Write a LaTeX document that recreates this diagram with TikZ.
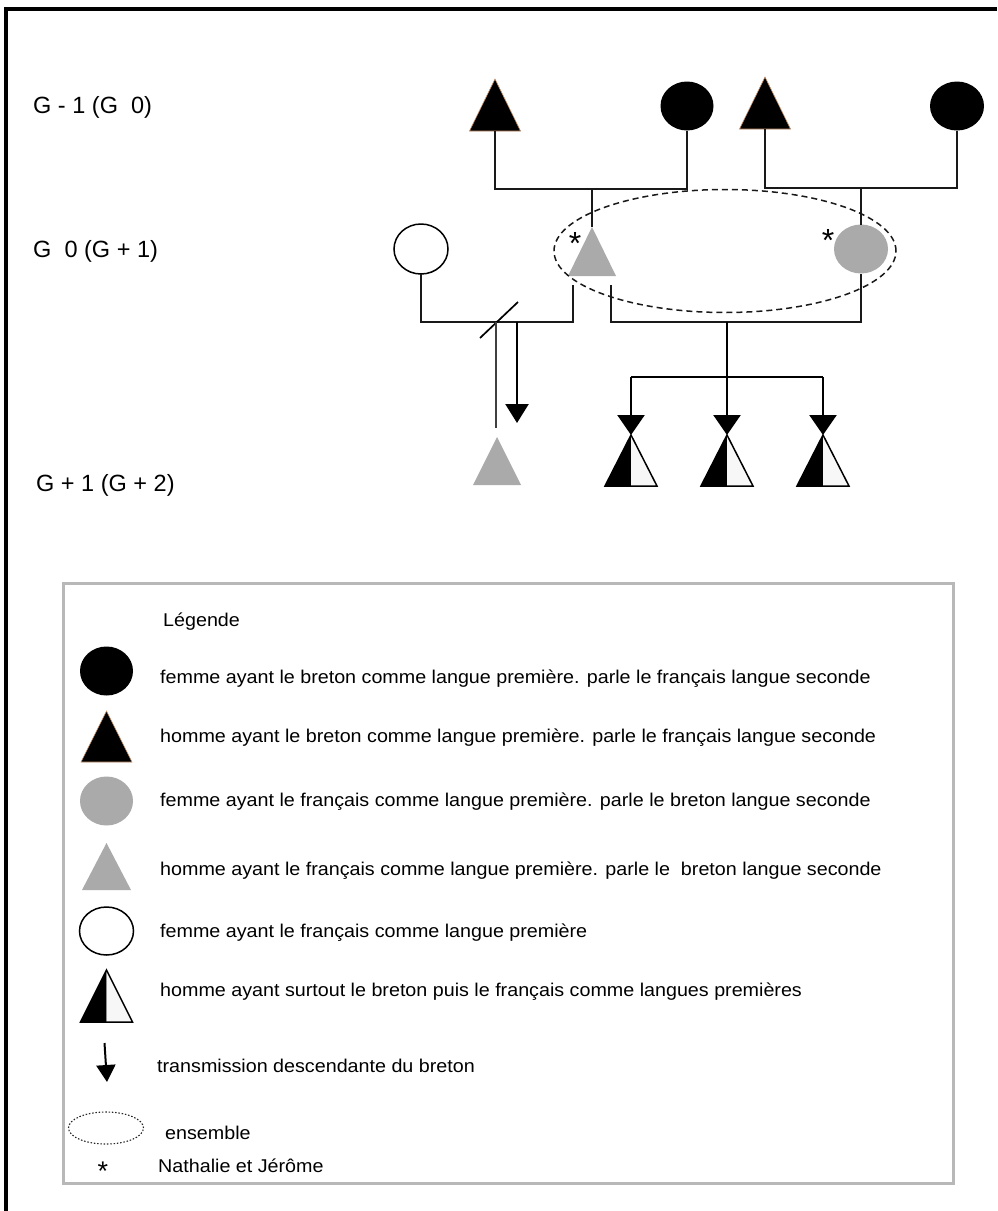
\documentclass[tikz,border=0pt]{standalone}
\usepackage{fontspec}
\setmainfont{Liberation Sans}
\newfontfamily\legfont[FakeStretch=1.065]{Liberation Sans}
\usetikzlibrary{shapes.geometric,arrows.meta}
\definecolor{fgray}{HTML}{AAAAAA}
\definecolor{edgebrown}{HTML}{C8926A}
\definecolor{boxgray}{HTML}{B8B8B8}
\definecolor{halfwhite}{HTML}{F7F7F7}
% triangle: [style]{name}{apex x}{apex y}{half width}{height}
\newcommand{\ptri}[6][]{%
  \path[#1] (#3,#4) -- ++(-#5,#6) -- ++(2*#5,0) -- cycle;
  \coordinate (#2) at (#3,#4);
  \coordinate (#2b) at (#3,#4+#6);}
% half black / half white triangle: {name}{apex x}{apex y}{half width}{height}
\newcommand{\phtri}[5]{%
  \fill[black] (#2,#3) -- ++(-#4,#5) -- ++(#4,0) -- cycle;
  \fill[halfwhite] (#2,#3) -- ++(0,#5) -- ++(#4,0) -- cycle;
  \draw[line width=1.5,line join=miter] (#2,#3) -- ++(-#4,#5) -- ++(2*#4,0) -- cycle;
  \coordinate (#1) at (#2,#3);}
\begin{document}
\begin{tikzpicture}[x=1pt,y=-1pt,
  pers/.style={ellipse,inner sep=0pt,outer sep=0pt,minimum width=53pt,minimum height=49pt},
  blackf/.style={fill=black,draw=edgebrown,line width=0.6},
  grayf/.style={fill=fgray},
  link/.style={line width=1.6,black!90},
  thinlink/.style={line width=1.1,black!75},
  desc/.style={line width=2.4,-{Triangle[length=20pt,width=27pt]}},
  gen/.style={font=\fontsize{23.5}{26}\selectfont,inner sep=0pt,anchor=base west},
  leg/.style={font=\legfont\fontsize{18.5}{21}\selectfont,inner sep=0pt,anchor=base west},
  star/.style={font=\fontsize{32}{34}\selectfont,inner sep=0pt,anchor=base}]
\useasboundingbox (0,0) rectangle (997,1211);
\fill[white] (0,0) rectangle (997,1211);
% outer frame
\draw[line width=3.5] (6,1211) -- (6,9) -- (997,9);

% generation labels
\node[gen] (g1) at (33,113) {G - 1 (G\ \ 0)};
\node[gen] (g2) at (33,257) {G\ \ 0 (G + 1)};
\node[gen] (g3) at (36,491) {G + 1 (G + 2)};

% G-1
\ptri[blackf]{T1}{495}{79}{25.5}{52}
\node[pers,fill=black] (C1) at (687,106) {};
\ptri[blackf]{T2}{765}{77}{25.5}{52}
\node[pers,fill=black,minimum width=54pt] (C2) at (957,106) {};

% G0
\node[pers,draw=black,line width=1.5,fill=white,minimum width=54pt,minimum height=50pt] (WC) at (421,249) {};
\ptri[grayf]{GT}{592}{227}{24}{49}
\node[pers,fill=fgray,minimum width=54pt] (GC) at (861,249) {};
\node[draw=black!90,dash pattern=on 6pt off 4pt,line width=1.5,ellipse,inner sep=0pt,minimum width=342pt,minimum height=123pt] (ens) at (725,251) {};
\node[star] (s1) at (575,254) {*};
\node[star] (s2) at (828,251) {*};

% links G-1 -> G0
\coordinate (m1) at (592,189);
\coordinate (m2) at (861,188);
\draw[link] (T1b) |- (m1) -| (C1.south);
\draw[link] (m1) -- (GT);
\draw[link] (T2b) |- (m2) -| (C2.south);
\draw[link] (m2) -- (GC.north);

% first union (separated)
\coordinate (u1r) at (573,285);
\coordinate (u1h) at (573,322);
\draw[link] (WC.south) |- (u1h) -- (u1r);
\coordinate (sl1) at (480,338);
\coordinate (sl2) at (518,302);
\draw[line width=1.7] (sl1) -- (sl2);
\coordinate (c0top) at (496,322);
\coordinate (c0end) at (496,428);
\draw[thinlink] (c0top) -- (c0end);
\coordinate (a0s) at (517,322);
\coordinate (a0e) at (517,423);
\draw[line width=2.4,-{Triangle[length=19pt,width=23pt]}] (a0s) -- (a0e);
\ptri[grayf]{K0}{497}{437}{24}{48}

% second union
\coordinate (u2l) at (611,285);
\coordinate (u2c) at (727,322);
\draw[link] (u2l) |- (u2c) -| (GC.south);
\coordinate (sib) at (727,377);
\draw[line width=2.2] (u2c) -- (sib);
\coordinate (sibl) at (631,377);
\coordinate (sibr) at (823,377);
\draw[line width=2.2] (sibl) -- (sibr);
\phtri{K1}{631}{435}{26}{51}
\phtri{K2}{727}{435}{26}{51}
\phtri{K3}{823}{435}{26}{51}
\draw[desc] (sibl) -- (K1);
\draw[desc] (sib) -- (K2);
\draw[desc] (sibr) -- (K3);

% legend
\draw[boxgray,line width=3] (63,583) rectangle (953,1183);
\node[leg] (lt) at (163,626) {Légende};
\node[pers,fill=black] (L1) at (106.5,671) {};
\node[leg] (t1) at (160,683) {femme ayant le breton comme langue première. parle le français langue seconde};
\ptri[blackf]{L2}{106.5}{711}{25.5}{51}
\node[leg] (t2) at (160,742) {homme ayant le breton comme langue première. parle le français langue seconde};
\node[pers,fill=fgray] (L3) at (106.5,801) {};
\node[leg] (t3) at (160,806) {femme ayant le français comme langue première. parle le breton langue seconde};
\ptri[grayf]{L4}{106.5}{843}{24.5}{47}
\node[leg] (t4) at (160,875) {homme ayant le français comme langue première. parle le\ \ breton langue seconde};
\node[pers,draw=black,line width=1.5,fill=white,minimum width=54pt,minimum height=48pt] (L5) at (106.5,931) {};
\node[leg] (t5) at (160,937) {femme ayant le français comme langue première};
\phtri{L6}{106.5}{970}{26}{52}
\node[leg] (t6) at (160,996) {homme ayant surtout le breton puis le français comme langues premières};
\coordinate (L7a) at (104.5,1043);
\coordinate (L7b) at (107,1082);
\draw[line width=2,-{Triangle[length=17pt,width=19pt]}] (L7a) -- (L7b);
\node[leg] (t7) at (157,1072) {transmission descendante du breton};
\node[draw=black!85,dash pattern=on 1.5pt off 1.8pt,line width=1.1,ellipse,inner sep=0pt,minimum width=75pt,minimum height=32pt] (L8) at (106,1128) {};
\node[leg] (t8) at (165,1139) {ensemble};
\node[star,font=\fontsize{27}{29}\selectfont] (L9) at (103,1180) {*};
\node[leg] (t9) at (158,1172) {Nathalie et Jérôme};
\end{tikzpicture}
\end{document}
